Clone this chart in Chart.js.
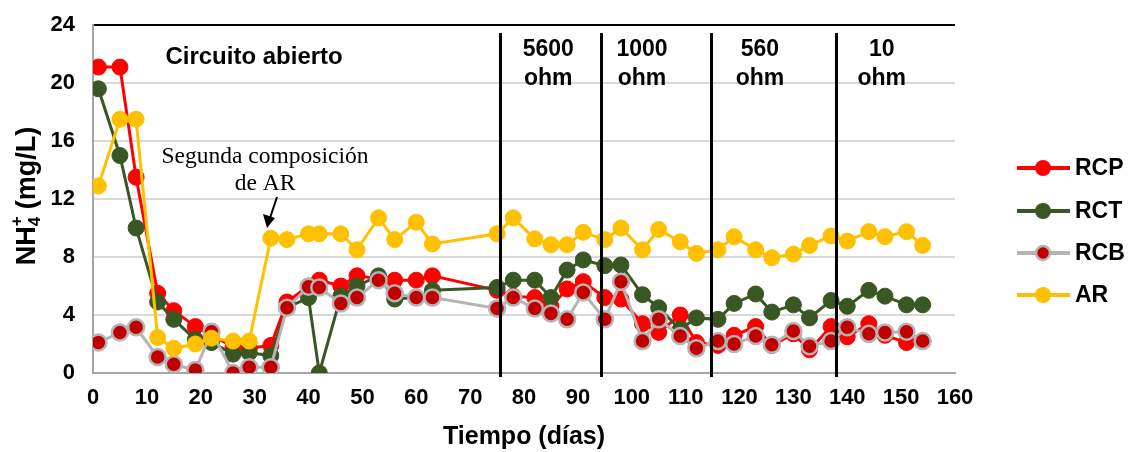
<!DOCTYPE html>
<html><head><meta charset="utf-8">
<script src="https://cdn.jsdelivr.net/npm/chart.js@4.4.0/dist/chart.umd.min.js"></script>
<style>html,body{margin:0;padding:0;background:#fff;}#wrap{width:1128px;height:452px;}</style>
</head><body><div id="wrap"><canvas id="c" width="1128" height="452"></canvas></div>
<script>
const days = [1,5,8,12,15,19,22,26,29,33,36,40,42,46,49,53,56,60,63,75,78,82,85,88,91,95,98,102,105,109,112,116,119,123,126,130,133,137,140,144,147,151,154];
const RCP = [21.1,21.1,13.5,5.5,4.3,3.2,2.6,1.8,1.7,1.9,4.9,6.0,6.4,6.0,6.7,6.5,6.4,6.4,6.7,5.7,5.3,5.2,4.6,5.8,6.3,5.2,5.1,3.4,2.8,4.0,2.1,1.9,2.6,3.2,1.9,2.7,1.6,3.2,2.5,3.4,2.6,2.1,2.2];
const RCT = [19.6,15.0,10.0,4.9,3.7,2.3,2.1,1.3,1.4,1.2,4.5,5.2,0.0,5.3,6.0,6.7,5.1,5.2,5.7,5.9,6.4,6.4,5.2,7.1,7.8,7.4,7.45,5.4,4.5,3.0,3.8,3.7,4.8,5.45,4.2,4.7,3.8,5.0,4.6,5.7,5.3,4.7,4.7];
const RCB = [2.1,2.8,3.15,1.1,0.6,0.2,2.85,0.0,0.4,0.4,4.5,5.95,5.9,4.8,5.2,6.4,5.5,5.2,5.2,4.45,5.2,4.45,4.1,3.7,5.55,3.7,6.3,2.2,3.7,2.55,1.7,2.2,2.0,2.55,1.95,2.9,1.85,2.2,3.15,2.7,2.8,2.85,2.2];
const AR = [12.9,17.5,17.5,2.45,1.7,2.0,2.4,2.2,2.2,9.3,9.2,9.6,9.6,9.6,8.5,10.7,9.2,10.4,8.9,9.6,10.7,9.25,8.85,8.85,9.7,9.2,10.0,8.5,9.9,9.05,8.25,8.5,9.4,8.5,7.95,8.2,8.8,9.45,9.1,9.75,9.4,9.75,8.8];
const seriesNames = ["RCP","RCT","RCB","AR"];
const xTickLabels = [0,10,20,30,40,50,60,70,80,90,100,110,120,130,140,150,160];
const yTickLabels = [0,4,8,12,16,20,24];
const phaseBounds = [75.5, 94.3, 114.7, 138];
const phaseLabels = [["5600","ohm"],["1000","ohm"],["560","ohm"],["10","ohm"]];
const phaseLabelDays = [84.5, 101.9, 123.8, 146.4];
const openLabel = "Circuito abierto";
const noteLines = ["Segunda composición","de AR"];

const colors = {RCP:'#ff0000', RCT:'#385723', RCB:'#c00000', AR:'#ffc000'};
const lineColors = {RCP:'#ff0000', RCT:'#385723', RCB:'#b4b4b4', AR:'#ffc000'};
const borderColors = {RCP:'#ff0000', RCT:'#385723', RCB:'#b4b4b4', AR:'#ffc000'};
const valuesBy = {RCP, RCT, RCB, AR};
const orderBy = {RCP:4, RCT:3, RCB:2, AR:1};

const datasets = seriesNames.map(n => ({
  label: n,
  data: days.map((d,i)=>({x:d, y:valuesBy[n][i]})),
  borderColor: lineColors[n],
  backgroundColor: colors[n],
  pointBackgroundColor: colors[n],
  pointBorderColor: borderColors[n],
  pointBorderWidth: n==='RCB'?2.5:1,
  pointRadius: 8,
  borderWidth: 3,
  tension: 0,
  order: orderBy[n]
}));

const SANS = '"Liberation Sans", Arial, sans-serif';
const SERIF = '"Liberation Serif", "Times New Roman", serif';

const overlay = {
  id:'overlay',
  afterDatasetsDraw(chart){
    const {ctx, scales:{x,y}, chartArea:ca} = chart;
    ctx.save();
    ctx.strokeStyle='#000'; ctx.lineWidth=3;
    phaseBounds.forEach(b=>{
      const px = Math.round(x.getPixelForValue(b))+0.5;
      ctx.beginPath(); ctx.moveTo(px, y.getPixelForValue(23.45)); ctx.lineTo(px, ca.bottom+4); ctx.stroke();
    });
    ctx.fillStyle='#000';
    ctx.textAlign='center'; ctx.textBaseline='middle';
    ctx.font='bold 24px '+SANS;
    ctx.fillText(openLabel, x.getPixelForValue(29.9), 57);
    ctx.font='bold 23px '+SANS;
    phaseLabels.forEach((pl,i)=>{
      const px = x.getPixelForValue(phaseLabelDays[i]);
      ctx.fillText(pl[0], px, 50);
      ctx.fillText(pl[1], px, 79);
    });
    ctx.font='23.5px '+SERIF;
    ctx.fillText(noteLines[0], 265, 157);
    ctx.fillText(noteLines[1], 265, 184);
    ctx.lineWidth=2;
    ctx.beginPath(); ctx.moveTo(277,197); ctx.lineTo(270,218); ctx.stroke();
    ctx.beginPath(); ctx.moveTo(267,228); ctx.lineTo(263,214); ctx.lineTo(275,218); ctx.closePath(); ctx.fill();
    ctx.font='bold 25px '+SANS;
    ctx.fillText('Tiempo (días)', 524, 437);
    ctx.translate(28, 196); ctx.rotate(-Math.PI/2);
    ctx.textAlign='left'; ctx.textBaseline='middle';
    const big='bold 27px '+SANS, small='bold 17px '+SANS;
    ctx.font=big; const w1=ctx.measureText('NH').width;
    ctx.font=small; const w2=ctx.measureText('4').width;
    ctx.font=big; const w3=ctx.measureText(' (mg/L)').width;
    const total = w1+w2+w3;
    let cx=-total/2;
    ctx.font=big; ctx.fillText('NH', cx, 0); cx+=w1;
    ctx.font=small; ctx.fillText('4', cx, 7); ctx.fillText('+', cx, -11); cx+=w2;
    ctx.font=big; ctx.fillText(' (mg/L)', cx, 0);
    ctx.restore();
    ctx.save();
    const ly=[168,211,253,295];
    seriesNames.forEach((n,i)=>{
      ctx.strokeStyle=lineColors[n]; ctx.lineWidth=4;
      ctx.beginPath(); ctx.moveTo(1017, ly[i]); ctx.lineTo(1070, ly[i]); ctx.stroke();
      ctx.beginPath(); ctx.arc(1043, ly[i], n==='RCB'?7:8, 0, Math.PI*2);
      ctx.fillStyle=colors[n]; ctx.fill();
      if(n==='RCB'){ctx.lineWidth=2.5; ctx.strokeStyle=borderColors[n]; ctx.stroke();}
      ctx.fillStyle='#000'; ctx.font='bold 23px '+SANS; ctx.textAlign='left'; ctx.textBaseline='middle';
      ctx.fillText(n, 1075, ly[i]+1);
    });
    ctx.restore();
  }
};

new Chart(document.getElementById('c'), {
  type:'line',
  data:{datasets},
  options:{
    responsive:false, animation:false, devicePixelRatio:1,
    layout:{padding:{top:25, right:173, left:0, bottom:0}},
    plugins:{legend:{display:false}, tooltip:{enabled:false}},
    scales:{
      x:{type:'linear', min:0, max:160,
        afterFit(s){s.height=79;},
        afterBuildTicks(s){s.ticks = xTickLabels.map(v=>({value:v}));},
        grid:{display:false, drawTicks:false},
        border:{display:true, color:'#a6a6a6', width:2},
        ticks:{color:'#000', font:{family:SANS, size:22, weight:'bold'}, padding:12, maxRotation:0, autoSkip:false}
      },
      y:{min:0, max:24,
        afterFit(s){s.width=93;},
        afterBuildTicks(s){s.ticks = yTickLabels.map(v=>({value:v}));},
        grid:{color:c=>c.tick && c.tick.value===24 ? '#000' : '#d9d9d9', lineWidth:2, drawTicks:false},
        border:{display:true, color:'#a6a6a6', width:2},
        ticks:{color:'#000', font:{family:SANS, size:22, weight:'bold', lineHeight:0.6}, padding:18}
      }
    }
  },
  plugins:[overlay]
});
</script></body></html>
